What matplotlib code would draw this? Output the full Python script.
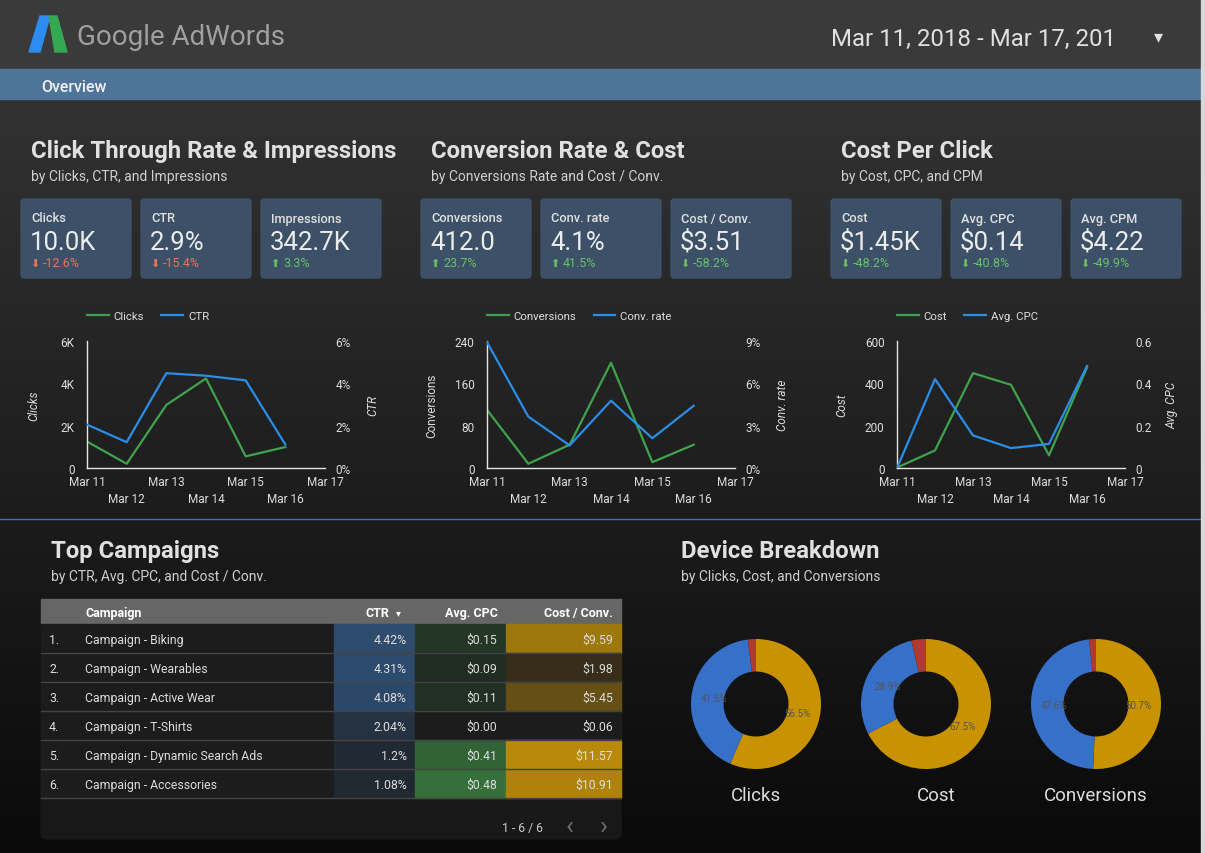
import numpy as np
import matplotlib
matplotlib.use('Agg')
import matplotlib.pyplot as plt
from matplotlib.patches import Rectangle, FancyBboxPatch, Polygon
from matplotlib.colors import LinearSegmentedColormap, Normalize

W, H = 1205, 854
plt.rcParams['font.family'] = ['Roboto', 'DejaVu Sans']

# ---------------- data ----------------
days = ['Mar 11', 'Mar 12', 'Mar 13', 'Mar 14', 'Mar 15', 'Mar 16', 'Mar 17']
clicks = [1250, 200, 2980, 4230, 550, 990]
ctr = [2.05, 1.22, 4.48, 4.36, 4.14, 1.11]
conversions = [110, 8, 44, 199, 11, 44]
conv_rate = [8.92, 3.64, 1.60, 4.77, 2.11, 4.41]
cost = [2, 83, 448, 393, 60, 475]
avg_cpc = [0.0, 0.42, 0.154, 0.094, 0.114, 0.482]

kpi_names = ['Clicks', 'CTR', 'Impressions', 'Conversions', 'Conv. rate', 'Cost / Conv.',
             'Cost', 'Avg. CPC', 'Avg. CPM']
kpi_values = ['10.0K', '2.9%', '342.7K', '412.0', '4.1%', '$3.51', '$1.45K', '$0.14', '$4.22']
kpi_changes = [-12.6, -15.4, 3.3, 23.7, 41.5, -58.2, -48.2, -40.8, -49.9]
kpi_good = [False, False, True, True, True, True, True, True, True]

campaigns = ['Campaign - Biking', 'Campaign - Wearables', 'Campaign - Active Wear',
             'Campaign - T-Shirts', 'Campaign - Dynamic Search Ads', 'Campaign - Accessories']
camp_ctr = [4.42, 4.31, 4.08, 2.04, 1.2, 1.08]
camp_ctr_txt = ['4.42%', '4.31%', '4.08%', '2.04%', '1.2%', '1.08%']
camp_cpc = [0.15, 0.09, 0.11, 0.00, 0.41, 0.48]
camp_cost_conv = [9.59, 1.98, 5.45, 0.06, 11.57, 10.91]

device_metrics = ['Clicks', 'Cost', 'Conversions']
clicks_share = [56.5, 41.5, 2.0]
cost_share = [67.5, 28.9, 3.6]
conv_share = [50.7, 47.6, 1.7]

GREEN = '#3fa34d'
BLUE = '#2a8de8'
CARD = '#3c5167'
TXT = '#e0e0e0'
DY = 1.5  # text nudge so centred text sits like the reference


def px_rect(x, y, w, h):
    return [x / W, 1 - (y + h) / H, w / W, h / H]


fig = plt.figure(figsize=(W / 100, H / 100), dpi=100)
bg = fig.add_axes([0, 0, 1, 1])
bg.set_xlim(0, W)
bg.set_ylim(H, 0)
bg.axis('off')

# background gradient
yy = np.arange(H)
shade = np.interp(yy, [0, 70, 71, 100, 854], [58, 58, 50, 50, 10]) / 255
grad = np.repeat(shade[:, None, None], 3, axis=2)
bg.imshow(grad, extent=(0, W, H, 0), aspect='auto', zorder=0)

# header
bg.add_patch(Rectangle((0, 70), W, 30, color='#4e7499', zorder=1))
bg.add_patch(Rectangle((1201, 0), 4, H, color='#d8d8d8', zorder=5))
bg.add_patch(Polygon([(40, 17), (50, 17), (40, 53), (29, 53)], color='#2d8cf0', zorder=2))
bg.add_patch(Polygon([(49, 17), (57, 17), (67, 53), (55, 53)], color='#34a853', zorder=2))
bg.text(77, 36 + DY, 'Google AdWords', fontsize=20, color='#a0a0a0', va='center', ha='left')
bg.text(831, 38 + DY, 'Mar 11, 2018 - Mar 17, 201', fontsize=17.3, color='#e0e0e0', va='center', ha='left')
bg.text(1158, 37, '▾', fontsize=13, color='#e0e0e0', va='center', ha='center',
        family=['DejaVu Sans'])
bg.text(41, 86 + DY, 'Overview', fontsize=11.5, color='#f2f2f2', va='center', ha='left', weight='medium')

# divider
bg.plot([0, W], [520, 520], color='#3d74b3', lw=1, zorder=2)

# section titles
titles = [(31, 'Click Through Rate & Impressions', 'by Clicks, CTR, and Impressions'),
          (431, 'Conversion Rate & Cost', 'by Conversions Rate and Cost / Conv.'),
          (841, 'Cost Per Click', 'by Cost, CPC, and CPM')]
for x, t, s in titles:
    bg.text(x, 150 + DY, t, fontsize=17.2, color=TXT, weight='bold', va='center', ha='left')
    bg.text(x, 176 + DY, s, fontsize=10, color='#d0d0d0', va='center', ha='left')
bg.text(51, 550 + DY, 'Top Campaigns', fontsize=17.2, color=TXT, weight='bold', va='center')
bg.text(51, 576 + DY, 'by CTR, Avg. CPC, and Cost / Conv.', fontsize=10, color='#d0d0d0', va='center')
bg.text(681, 550 + DY, 'Device Breakdown', fontsize=17.2, color=TXT, weight='bold', va='center')
bg.text(681, 576 + DY, 'by Clicks, Cost, and Conversions', fontsize=10, color='#d0d0d0', va='center')

# KPI cards
card_x = [21, 141, 261, 421, 541, 671, 831, 951, 1071]
card_w = [110, 110, 120, 110, 120, 120, 110, 110, 110]
for i in range(len(kpi_names)):
    x = card_x[i]
    bg.add_patch(FancyBboxPatch((x, 200), card_w[i], 79, boxstyle='round,pad=0,rounding_size=3',
                                color=CARD, zorder=1))
    bg.text(x + 10, 217.5 + DY, kpi_names[i], fontsize=9.2, color=TXT, va='center', weight='medium')
    bg.text(x + 9, 241 + DY, kpi_values[i], fontsize=18.5, color='#ececec', va='center')
    col = '#6abf69' if kpi_good[i] else '#e8735a'
    arrow = '⬆' if kpi_changes[i] > 0 else '⬇'
    bg.text(x + 14, 262.5 + DY, arrow, fontsize=8, color=col, va='center', ha='center',
            family=['DejaVu Sans'])
    bg.text(x + 22, 262.5 + DY, f'{kpi_changes[i]}%', fontsize=9, color=col, va='center')


# line charts
def line_panel(left, right, lvals, rvals, lname, rname, lticks, llabels, rticks, rlabels,
               lab_lx, lab_rx, l_italic):
    top, bottom = 342, 469
    ax = fig.add_axes(px_rect(left, top, right - left, bottom - top))
    ax.set_facecolor('none')
    x = np.arange(len(lvals))
    l1, = ax.plot(x, lvals, color=GREEN, lw=1.6, label=lname)
    ax2 = ax.twinx()
    l2, = ax2.plot(x, rvals, color=BLUE, lw=1.6, label=rname)
    ax.set_xlim(0, len(days) - 1)
    ax.set_ylim(0, lticks[-1])
    ax2.set_ylim(0, rticks[-1])
    ax.set_xticks(range(len(days)))
    ax.set_xticklabels([d if i % 2 == 0 else '\n' + d for i, d in enumerate(days)])
    for t in ax.get_xticklabels():
        t.set_linespacing(1.4)
    ax.set_yticks(lticks)
    ax.set_yticklabels(llabels)
    ax2.set_yticks(rticks)
    ax2.set_yticklabels(rlabels)
    for s in ['top', 'right']:
        ax.spines[s].set_visible(False)
    for s in ['left', 'bottom']:
        ax.spines[s].set_color('#e6e6e6')
        ax.spines[s].set_linewidth(1)
    for s in ax2.spines.values():
        s.set_visible(False)
    ax.tick_params(axis='y', length=0, labelsize=8.5, labelcolor='#dddddd', pad=9)
    ax.tick_params(axis='x', length=0, labelsize=8.5, labelcolor='#dddddd', pad=5)
    ax2.tick_params(axis='y', length=0, labelsize=8.5, labelcolor='#dddddd', pad=7.5)
    wpx = right - left
    ax.set_ylabel(lname, fontsize=8.5, color='#dddddd', style='italic' if l_italic else 'normal')
    ax.yaxis.set_label_coords((lab_lx - left) / wpx, 0.5)
    ax2.set_ylabel(rname, fontsize=8.5, color='#dddddd', style='italic')
    ax2.yaxis.set_label_coords((lab_rx - left) / wpx, 0.5)
    ax.legend(handles=[l1, l2], loc='center left', bbox_to_anchor=(left / W, 1 - 317 / H),
              bbox_transform=fig.transFigure, ncol=2, frameon=False, fontsize=8.2,
              handlelength=1.9, handletextpad=0.45, columnspacing=1.5,
              borderpad=0, borderaxespad=0, labelcolor='#dddddd')
    return ax


line_panel(87, 325, clicks, ctr, 'Clicks', 'CTR', [0, 2000, 4000, 6000], ['0', '2K', '4K', '6K'],
           [0, 2, 4, 6], ['0%', '2%', '4%', '6%'], 40, 366, True)
line_panel(487, 735, conversions, conv_rate, 'Conversions', 'Conv. rate', [0, 80, 160, 240],
           ['0', '80', '160', '240'], [0, 3, 6, 9], ['0%', '3%', '6%', '9%'], 438, 776, False)
line_panel(897, 1125, cost, avg_cpc, 'Cost', 'Avg. CPC', [0, 200, 400, 600],
           ['0', '200', '400', '600'], [0, 0.2, 0.4, 0.6], ['0', '0.2', '0.4', '0.6'], 848, 1165, True)

# table
row_bg = '#1c1c1c'
bg.add_patch(FancyBboxPatch((41, 600), 580, 240, boxstyle='round,pad=0,rounding_size=6',
                            color='#181818', zorder=1))
bg.add_patch(Rectangle((41, 600), 580, 25, color='#666666', zorder=2))
hdr_y = 612.5 + 1
bg.text(85, hdr_y, 'Campaign', fontsize=9, color='white', weight='bold', va='center', zorder=3)
bg.text(389, hdr_y, 'CTR', fontsize=9, color='white', weight='bold', va='center', ha='right', zorder=3)
bg.text(398, hdr_y, '▾', fontsize=7, color='white', va='center', ha='center', zorder=3,
        family=['DejaVu Sans'])
bg.text(498, hdr_y, 'Avg. CPC', fontsize=9, color='white', weight='bold', va='center', ha='right', zorder=3)
bg.text(613, hdr_y, 'Cost / Conv.', fontsize=9, color='white', weight='bold', va='center', ha='right', zorder=3)

cm_ctr = LinearSegmentedColormap.from_list('ctr', [row_bg, '#2d4c6e'])
cm_cpc = LinearSegmentedColormap.from_list('cpc', [row_bg, '#356f3a'])
cm_cost = LinearSegmentedColormap.from_list('cost', [row_bg, '#b8890a'])
n_ctr = Normalize(0, max(camp_ctr))
n_cpc = Normalize(0, max(camp_cpc))
n_cost = Normalize(0, max(camp_cost_conv))

for i, name in enumerate(campaigns):
    y0 = 625 + 29 * i
    yc = y0 + 14.5 + 1
    bg.add_patch(Rectangle((41, y0), 293, 29, color=row_bg, zorder=2))
    bg.add_patch(Rectangle((334, y0), 81, 29, color=cm_ctr(n_ctr(camp_ctr[i])), zorder=2))
    bg.add_patch(Rectangle((415, y0), 91, 29, color=cm_cpc(n_cpc(camp_cpc[i])), zorder=2))
    bg.add_patch(Rectangle((506, y0), 115, 29, color=cm_cost(n_cost(camp_cost_conv[i])), zorder=2))
    bg.plot([41, 621], [y0 + 29, y0 + 29], color='#444444', lw=1, zorder=3)
    bg.text(49, yc, f'{i + 1}.', fontsize=8.8, color='#dddddd', va='center', zorder=3)
    bg.text(85, yc, name, fontsize=8.8, color='#dddddd', va='center', zorder=3)
    bg.text(407, yc, camp_ctr_txt[i], fontsize=8.8, color='#dddddd', va='center', ha='right', zorder=3)
    bg.text(497, yc, f'${camp_cpc[i]:.2f}', fontsize=8.8, color='#dddddd', va='center', ha='right', zorder=3)
    bg.text(613, yc, f'${camp_cost_conv[i]:.2f}', fontsize=8.8, color='#dddddd', va='center', ha='right', zorder=3)

bg.text(522, 829, '1 - 6 / 6', fontsize=8.8, color='#cccccc', va='center', ha='center', zorder=3)
bg.text(570, 827, '‹', fontsize=19, color='#6e6e6e', va='center', ha='center', zorder=3)
bg.text(604, 827, '›', fontsize=19, color='#6e6e6e', va='center', ha='center', zorder=3)

# donuts
pie_colors = ['#c89200', '#3670c9', '#b03a2e']
centers = [756, 926, 1096]
title_x = [756, 936, 1096]
shares = [clicks_share, cost_share, conv_share]
for cx, tx, label, share in zip(centers, title_x, device_metrics, shares):
    dax = fig.add_axes(px_rect(cx - 65, 705 - 65, 130, 130))
    dax.pie(share, colors=pie_colors, startangle=90, counterclock=False,
            wedgeprops=dict(width=0.5, edgecolor='none'),
            autopct=lambda p: f'{p:.1f}%' if p > 5 else '', pctdistance=0.65,
            textprops=dict(color='#555555', fontsize=7))
    dax.set_xlim(-1, 1)
    dax.set_ylim(-1, 1)
    bg.text(tx, 795 + DY, label, fontsize=13.5, color='#dddddd', va='center', ha='center')

fig.savefig('out.png', dpi=100, facecolor='#111111')
